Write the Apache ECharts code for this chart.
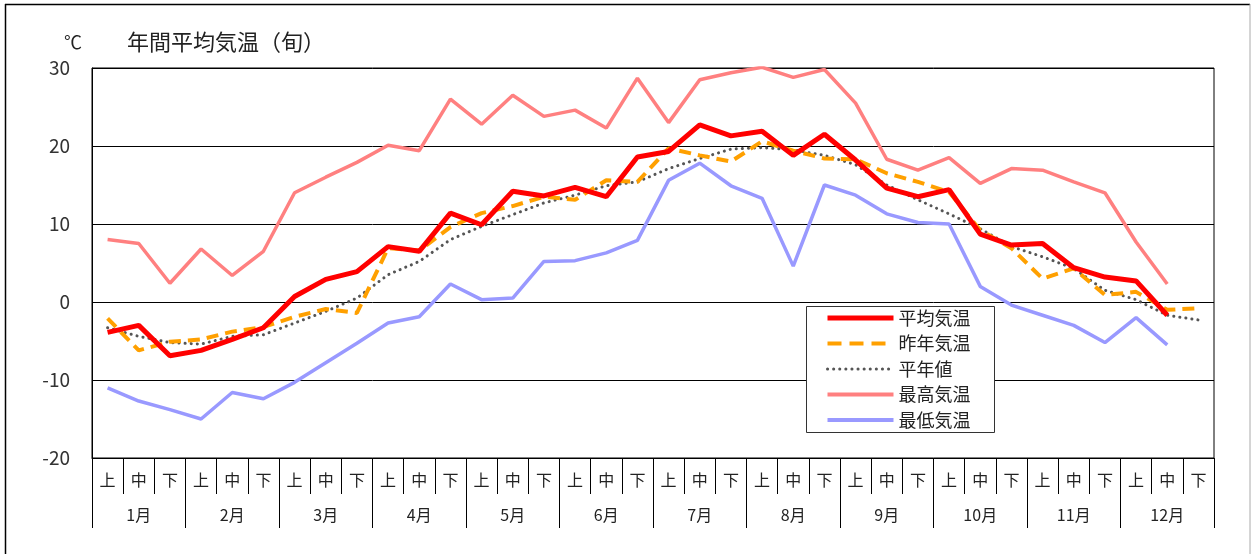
<!DOCTYPE html>
<html>
<head>
<meta charset="utf-8">
<script src="https://cdn.jsdelivr.net/npm/echarts@6/dist/echarts.min.js"></script>
<style>
  html, body { margin: 0; padding: 0; background: #fff; }
  #chart { width: 1252px; height: 554px; }
</style>
</head>
<body>
<div id="chart"></div>
<script>
// 旬ごとの区分
var junLabels = [];
for (var m = 0; m < 12; m++) { junLabels.push('上', '中', '下'); }
var months = ['1月','2月','3月','4月','5月','6月','7月','8月','9月','10月','11月','12月'];

// 平均気温
var heikin = [-3.9, -3.0, -6.9, -6.2, -4.8, -3.3, 0.7, 2.9, 3.9, 7.1, 6.5, 11.4,
              9.9, 14.2, 13.6, 14.7, 13.5, 18.6, 19.3, 22.7, 21.3, 21.9, 18.8, 21.5,
              18.2, 14.6, 13.5, 14.4, 8.7, 7.3, 7.5, 4.4, 3.2, 2.7, -1.7, null];
// 昨年気温
var sakunen = [-2.1, -6.2, -5.1, -4.8, -3.8, -3.2, -1.9, -0.9, -1.4, 6.9, 6.6, 9.6,
               11.4, 12.3, 13.5, 13.1, 15.6, 15.4, 19.7, 18.8, 18.0, 20.6, 19.4, 18.4,
               18.3, 16.5, 15.4, 14.1, 9.2, 6.9, 3.0, 4.3, 0.9, 1.3, -1.0, -0.8];
// 平年値
var heinen = [-3.3, -4.4, -5.2, -5.4, -4.4, -4.2, -2.7, -1.2, 0.5, 3.5, 5.2, 8.0,
              9.7, 11.2, 12.7, 13.7, 14.9, 15.4, 17.1, 18.4, 19.6, 19.8, 19.5, 18.8,
              17.6, 15.0, 13.1, 11.3, 9.4, 7.1, 5.8, 4.3, 1.5, 0.3, -1.7, -2.3];
// 最高気温
var saikou = [8.0, 7.5, 2.4, 6.8, 3.4, 6.5, 14.0, 16.0, 17.9, 20.1, 19.4, 26.0,
              22.8, 26.5, 23.8, 24.6, 22.3, 28.7, 23.0, 28.5, 29.4, 30.1, 28.8, 29.8,
              25.5, 18.3, 16.9, 18.5, 15.2, 17.1, 16.9, 15.4, 14.0, 7.7, 2.3, null];
// 最低気温
var saitei = [-11.0, -12.7, -13.8, -15.0, -11.6, -12.4, -10.3, -7.8, -5.3, -2.7, -1.9, 2.3,
              0.3, 0.5, 5.2, 5.3, 6.3, 7.9, 15.6, 17.8, 14.9, 13.3, 4.6, 15.0,
              13.7, 11.3, 10.2, 10.0, 2.0, -0.4, -1.7, -3.0, -5.2, -2.0, -5.5, null];

var yTicks = [-20, -10, 0, 10, 20, 30];

var jpFont = '"Noto Sans CJK JP", sans-serif';
var myChart = echarts.init(document.getElementById('chart'));

var option = {
  animation: false,
  textStyle: { fontFamily: jpFont },
  title: {
    text: '年間平均気温（旬）',
    left: 122,
    top: 26,
    textStyle: { fontSize: 22, fontWeight: 'normal', color: '#222', fontFamily: jpFont }
  },
  graphic: [
    { type: 'line', shape: { x1: 5, y1: 4.5, x2: 1250, y2: 4.5 }, style: { stroke: '#000', lineWidth: 1.5 } },
    { type: 'line', shape: { x1: 5.5, y1: 4, x2: 5.5, y2: 554 }, style: { stroke: '#000', lineWidth: 1.5 } },
    { type: 'line', shape: { x1: 1250, y1: 4, x2: 1250, y2: 554 }, style: { stroke: '#aaa', lineWidth: 1 } },
    { type: 'text', left: 64, top: 33, style: { text: '℃', fontSize: 18, fill: '#222', fontFamily: jpFont } },
    // 凡例の枠
    { type: 'rect', z: 10, shape: { x: 806.5, y: 306.5, width: 188, height: 126 },
      style: { fill: '#fff', stroke: '#333', lineWidth: 1 } }
  ],
  legend: {
    orient: 'vertical',
    left: 806,
    top: 306,
    z: 20,
    padding: [3, 0, 0, 19],
    itemWidth: 66,
    itemHeight: 14,
    itemGap: 7.5,
    itemStyle: { opacity: 0 },
    textStyle: { fontSize: 18, color: '#222', fontFamily: jpFont },
    data: [
      { name: '平均気温', lineStyle: { width: 5 } },
      { name: '昨年気温', lineStyle: { width: 4, type: [14, 8] } },
      { name: '平年値', lineStyle: { width: 3 } },
      { name: '最高気温', lineStyle: { width: 4 } },
      { name: '最低気温', lineStyle: { width: 4 } }
    ]
  },
  grid: {
    left: 92, right: 38, top: 68, bottom: 96,
    show: true, borderColor: '#000', borderWidth: 1
  },
  xAxis: [
    {
      type: 'category',
      data: junLabels,
      boundaryGap: true,
      position: 'bottom',
      axisLine: { show: true, onZero: false, lineStyle: { color: '#000', width: 1 } },
      axisTick: { show: true, interval: 0, length: 36, lineStyle: { color: '#000' } },
      axisLabel: { interval: 0, margin: 14, fontSize: 16, color: '#222', fontFamily: jpFont }
    },
    {
      type: 'category',
      data: months,
      boundaryGap: true,
      position: 'bottom',
      offset: 0,
      axisLine: { show: false, onZero: false },
      axisTick: { show: true, interval: 0, length: 70, lineStyle: { color: '#000' } },
      axisLabel: { interval: 0, margin: 49, fontSize: 16, color: '#222', fontFamily: jpFont }
    }
  ],
  yAxis: {
    type: 'value',
    min: yTicks[0],
    max: yTicks[yTicks.length - 1],
    interval: 10,
    axisLine: { show: true, lineStyle: { color: '#000' } },
    axisTick: { show: false },
    splitLine: { lineStyle: { color: '#000', width: 1 } },
    axisLabel: { margin: 22, fontSize: 19, color: '#333', fontFamily: jpFont }
  },
  series: [
    {
      name: '最高気温', type: 'line', data: saikou, symbol: 'none', z: 2,
      lineStyle: { color: '#ff8080', width: 3.5 }, itemStyle: { color: '#ff8080' }
    },
    {
      name: '最低気温', type: 'line', data: saitei, symbol: 'none', z: 2,
      lineStyle: { color: '#9999ff', width: 3.5 }, itemStyle: { color: '#9999ff' }
    },
    {
      name: '平年値', type: 'line', data: heinen, symbol: 'none', z: 3,
      lineStyle: { color: '#555', width: 3, type: [0.1, 6], cap: 'round' }, itemStyle: { color: '#555' }
    },
    {
      name: '昨年気温', type: 'line', data: sakunen, symbol: 'none', z: 4,
      lineStyle: { color: '#ffa000', width: 4, type: [12, 7] }, itemStyle: { color: '#ffa000' }
    },
    {
      name: '平均気温', type: 'line', data: heikin, symbol: 'none', z: 5,
      lineStyle: { color: '#ff0000', width: 5 }, itemStyle: { color: '#ff0000' }
    }
  ]
};

myChart.setOption(option);
</script>
</body>
</html>
